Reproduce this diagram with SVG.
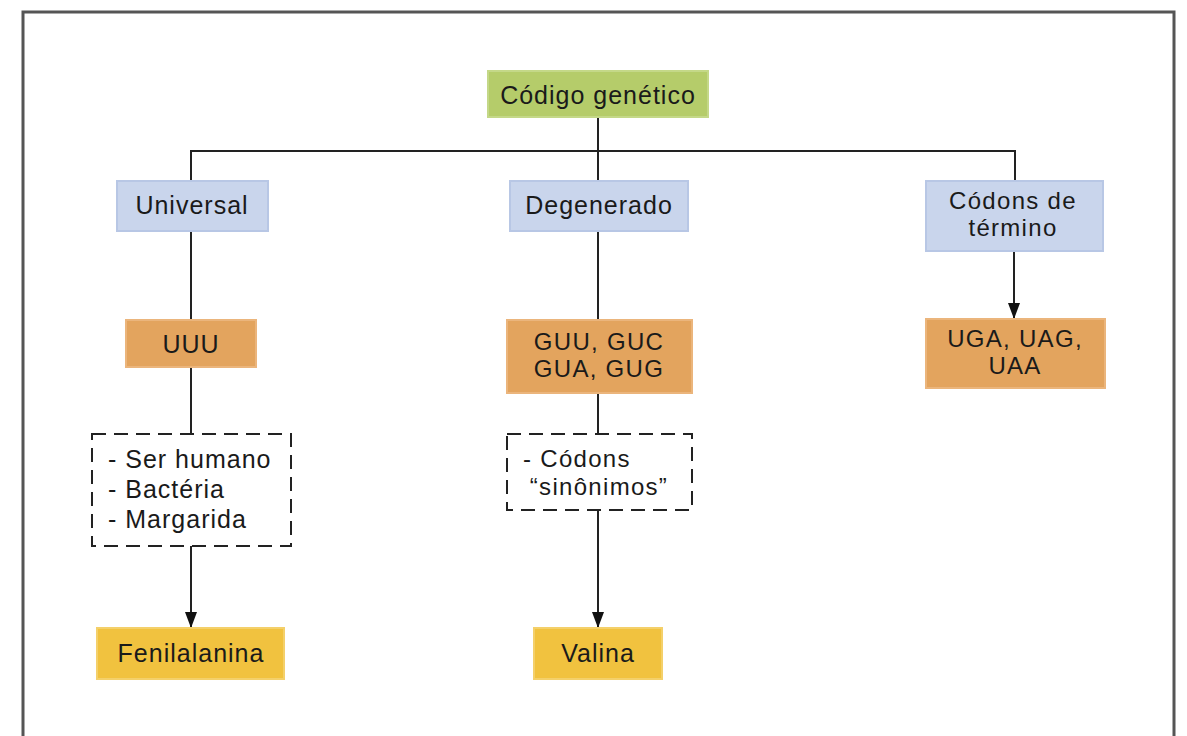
<svg xmlns="http://www.w3.org/2000/svg" width="1187" height="736" viewBox="0 0 1187 736">
<defs>
<style>
text{font-family:"Liberation Sans",Arial,sans-serif;font-size:25px;letter-spacing:1px;fill:#1a1a1a;text-anchor:middle}
.m{font-size:24px;letter-spacing:1.3px}
.s{text-anchor:start}
.green{fill:#b5cc6a;stroke:#c4d888;stroke-width:2}
.blue{fill:#c9d5ec;stroke:#b8c7e5;stroke-width:2}
.orange{fill:#e3a45e;stroke:#ebb57c;stroke-width:2}
.yellow{fill:#f1c23f;stroke:#f4d06a;stroke-width:2}
.dash{fill:#fff;stroke:#222;stroke-width:2;stroke-dasharray:14 8}
.line{fill:none;stroke:#222;stroke-width:2}
</style>
<marker id="ah" markerWidth="16" markerHeight="12" refX="15" refY="6" orient="auto" markerUnits="userSpaceOnUse" viewBox="0 0 16 12">
<path d="M0,0 L16,6 L0,12 Z" fill="#111"/>
</marker>
</defs>
<rect x="0" y="0" width="1187" height="736" fill="#fff"/>
<path d="M23,740 V12 H1174 V740" fill="none" stroke="#555" stroke-width="3"/>
<g id="connectors">
<path class="line" d="M598,117 V180"/>
<path class="line" d="M191,180 V151 H1015 V180"/>
<path class="line" d="M191,231 V319"/>
<path class="line" d="M191,367 V433"/>
<path class="line" d="M191,546 V627" marker-end="url(#ah)"/>
<path class="line" d="M598,231 V319"/>
<path class="line" d="M598,393 V433"/>
<path class="line" d="M598,510 V627" marker-end="url(#ah)"/>
<path class="line" d="M1014,251 V318" marker-end="url(#ah)"/>
</g>
<g id="root"><rect class="green" x="488" y="71" width="220" height="46"/><text x="598" y="104">Código genético</text></g>
<g id="universal"><rect class="blue" x="117" y="181" width="151" height="50"/><text x="192" y="214">Universal</text></g>
<g id="degenerado"><rect class="blue" x="510" y="181" width="178" height="50"/><text x="599" y="214">Degenerado</text></g>
<g id="termino"><rect class="blue" x="926" y="181" width="177" height="70"/><text class="m" x="1013" y="209">Códons de</text><text class="m" x="1013" y="236">término</text></g>
<g id="uuu"><rect class="orange" x="126" y="320" width="130" height="47"/><text x="191" y="353">UUU</text></g>
<g id="guu"><rect class="orange" x="507" y="320" width="185" height="73"/><text class="m" x="599" y="350">GUU, GUC</text><text class="m" x="599" y="377">GUA, GUG</text></g>
<g id="uga"><rect class="orange" x="926" y="319" width="179" height="69"/><text class="m" x="1015" y="347">UGA, UAG,</text><text class="m" x="1015" y="374">UAA</text></g>
<g id="organismos"><rect class="dash" x="92" y="434" width="199" height="112"/><text class="s" x="108" y="468">- Ser humano</text><text class="s" x="108" y="498">- Bactéria</text><text class="s" x="108" y="528">- Margarida</text></g>
<g id="sinonimos"><rect class="dash" x="507" y="434" width="185" height="76"/><text class="s m" x="523" y="467">- Códons</text><text class="m" x="599" y="495">“sinônimos”</text></g>
<g id="fenilalanina"><rect class="yellow" x="97" y="628" width="187" height="51"/><text x="191" y="662">Fenilalanina</text></g>
<g id="valina"><rect class="yellow" x="534" y="628" width="128" height="51"/><text x="598" y="662">Valina</text></g>
</svg>
